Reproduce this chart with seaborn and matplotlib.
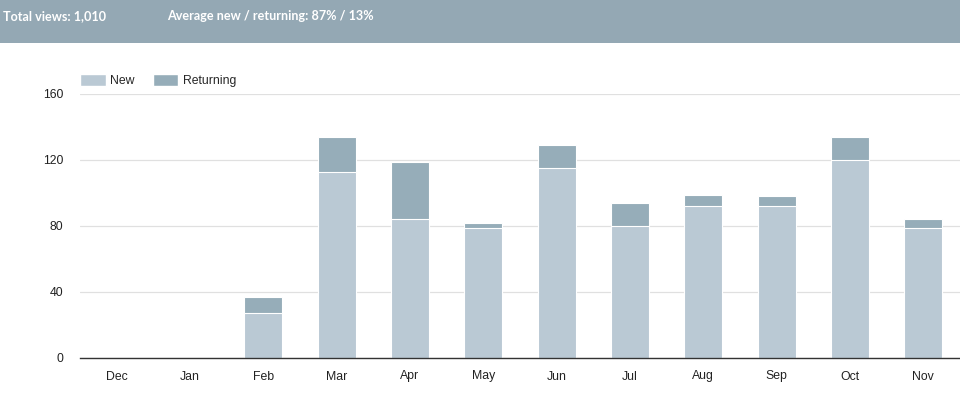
import numpy as np
import pandas as pd
import seaborn as sns
import matplotlib.pyplot as plt
from matplotlib.patches import Rectangle, Patch

months = ["Dec", "Jan", "Feb", "Mar", "Apr", "May", "Jun", "Jul", "Aug", "Sep", "Oct", "Nov"]
new_views = [0, 0, 27, 113, 84, 79, 115, 80, 92, 92, 120, 79]
returning_views = [0, 0, 10, 21, 35, 3, 14, 14, 7, 6, 14, 5]
y_ticks = [0, 40, 80, 120, 160]

NEW_COLOR = "#bac9d4"
RET_COLOR = "#96adb9"
HEADER_COLOR = "#94a8b4"

df = pd.DataFrame({"month": months, "new": new_views, "returning": returning_views})
df["total"] = df["new"] + df["returning"]

total_views = int(df["total"].sum())
share_new = round(100 * df["new"].sum() / total_views)

sns.set_theme(style="white")
plt.rcParams["font.family"] = ["Liberation Sans", "DejaVu Sans"]

fig = plt.figure(figsize=(9.6, 3.95), dpi=100)
ax = fig.add_axes([80 / 960, 37 / 395, 880 / 960, 264 / 395])

# stacked bars: total underneath, new on top of it
sns.barplot(data=df, x="month", y="total", color=RET_COLOR, saturation=1,
            width=0.52, edgecolor="white", linewidth=0.8, ax=ax)
sns.barplot(data=df, x="month", y="new", color=NEW_COLOR, saturation=1,
            width=0.52, edgecolor="white", linewidth=0.8, ax=ax)

ax.set_ylim(0, 160)
ax.set_xlim(-0.5, len(months) - 0.5)
ax.set_yticks(y_ticks)
ax.yaxis.grid(True, color="#e0e0e0", linewidth=0.9)
ax.set_axisbelow(True)
for s in ["top", "right", "left"]:
    ax.spines[s].set_visible(False)
ax.spines["bottom"].set_color("#333333")
ax.spines["bottom"].set_linewidth(1.0)
ax.spines["bottom"].set_zorder(5)
ax.set_xlabel("")
ax.set_ylabel("")
ax.tick_params(axis="both", length=0, labelsize=8.8, colors="#222222")
ax.tick_params(axis="y", pad=12)
ax.tick_params(axis="x", pad=9)

handles = [Patch(facecolor=NEW_COLOR, label="New"),
           Patch(facecolor=RET_COLOR, label="Returning")]
fig.legend(handles=handles, loc="lower left", bbox_to_anchor=(75 / 960, 303 / 395),
           ncol=2, frameon=False, fontsize=8.8, handlelength=2.1, handleheight=1.1,
           columnspacing=1.45, handletextpad=0.4, borderaxespad=0)

# header band
fig.patches.append(Rectangle((0, 352 / 395), 1, 43 / 395, transform=fig.transFigure,
                             facecolor=HEADER_COLOR, edgecolor="none", zorder=0))
fig.text(3 / 960, 1 - 16 / 395, f"Total views: {total_views:,}", color="white",
         fontsize=9.1, family="Lato", fontweight="bold", va="center", ha="left")
fig.text(167 / 960, 1 - 16 / 395,
         f"Average new / returning: {share_new}% / {100 - share_new}%", color="white",
         fontsize=9.1, family="Lato", fontweight="bold", va="center", ha="left")

fig.savefig("out.png", dpi=100)
